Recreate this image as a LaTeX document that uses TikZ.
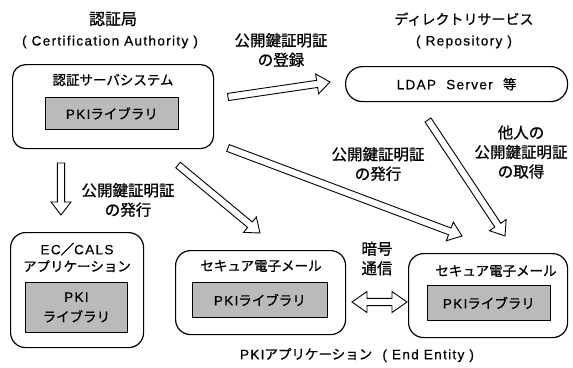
\documentclass[tikz,border=0pt]{standalone}
\usepackage{fontspec}
\setmainfont{Liberation Sans}[LetterSpace=10, FakeBold=0.6, AutoFakeBold=0.6]
\newfontfamily\jp{Noto Sans CJK JP}[FakeBold=0.8]
\usetikzlibrary{calc}
\tikzset{
  box/.style={draw, line width=1.2pt, anchor=north west, inner sep=0pt},
  lib/.style={draw, line width=0.8pt, fill=black!27, anchor=north west, inner sep=0pt, align=center,
              font=\fontsize{13.5}{20}\selectfont},
  txt/.style={inner sep=0pt, align=center, font=\fontsize{13.5}{17}\selectfont},
  lbl/.style={inner sep=0pt, align=center, font=\fontsize{15.5}{19.5}\selectfont\jp},
  fat/.style={draw, line width=0.9pt, fill=white, line join=miter},
}
\newcommand\fatarrow[2]{%
  \path[fat] let \p1=(#1), \p2=(#2), \n1={atan2(\y2-\y1,\x2-\x1)},
      \n2={veclen(\x2-\x1,\y2-\y1)-13pt} in
    ($(#1)+(\n1-90:3.6pt)$) -- ($(#1)+(\n1:\n2)+(\n1-90:3.6pt)$)
    -- ($(#1)+(\n1:\n2)+(\n1-90:10pt)$) -- (#2)
    -- ($(#1)+(\n1:\n2)+(\n1+90:10pt)$) -- ($(#1)+(\n1:\n2)+(\n1+90:3.6pt)$)
    -- ($(#1)+(\n1+90:3.6pt)$) -- cycle;}
\newcommand\fatdarrow[2]{%
  \path[fat] let \p1=(#1), \p2=(#2), \n1={atan2(\y2-\y1,\x2-\x1)},
      \n2={veclen(\x2-\x1,\y2-\y1)-15pt} in
    (#1) -- ($(#1)+(\n1:15pt)+(\n1+90:10.5pt)$) -- ($(#1)+(\n1:15pt)+(\n1+90:3.6pt)$)
    -- ($(#1)+(\n1:\n2)+(\n1+90:3.6pt)$) -- ($(#1)+(\n1:\n2)+(\n1+90:10.5pt)$)
    -- (#2)
    -- ($(#1)+(\n1:\n2)+(\n1-90:10.5pt)$) -- ($(#1)+(\n1:\n2)+(\n1-90:3.6pt)$)
    -- ($(#1)+(\n1:15pt)+(\n1-90:3.6pt)$) -- ($(#1)+(\n1:15pt)+(\n1-90:10.5pt)$) -- cycle;}
\begin{document}
\begin{tikzpicture}[x=1pt, y=-1pt]
\useasboundingbox[fill=white] (0,0) rectangle (573,367);
% titles
\node[txt, font=\fontsize{16}{18}\selectfont\jp] (tca1) at (113,19) {認証局};
\node[txt] (tca2) at (110,42) {(\ Certification Authority\ )};
\node[txt, font=\fontsize{14}{17}\selectfont\jp] (tdir1) at (464,19) {ディレクトリサービス};
\node[txt] (tdir2) at (464,42) {(\ Repository\ )};
% CA
\node[box, rounded corners=13pt, minimum width=201pt, minimum height=84pt] (ca) at (12,64) {};
\node[txt, font=\fontsize{13.5}{17}\selectfont\jp] (cat) at (113,80) {認証サーバシステム};
\node[lib, minimum width=133pt, minimum height=32pt] (calib) at (45,97) {PKI{\jp ライブラリ}};
% LDAP
\node[box, rounded corners=17pt, minimum width=222pt, minimum height=35pt, txt, anchor=north west] (ldap) at (345,66) {LDAP\ \ Server\ \ {\jp 等}};
% EC/CALS
\node[box, rounded corners=15pt, minimum width=133pt, minimum height=115pt] (ec) at (10,232) {};
\node[txt] (ect) at (77,257.5) {EC{\jp ／}CALS\\{\jp アプリケーション}};
\node[lib, minimum width=102pt, minimum height=50pt] (eclib) at (25,282) {PKI\\{\jp ライブラリ}};
% mail 1
\node[box, rounded corners=15pt, minimum width=170pt, minimum height=84pt] (m1) at (175,250) {};
\node[txt, font=\fontsize{13.5}{17}\selectfont\jp] (m1t) at (261,266) {セキュア電子メール};
\node[lib, minimum width=135pt, minimum height=35pt] (m1lib) at (192,282) {PKI{\jp ライブラリ}};
% mail 2
\node[box, rounded corners=15pt, minimum width=159pt, minimum height=84pt] (m2) at (408,253) {};
\node[txt, font=\fontsize{13.5}{17}\selectfont\jp] (m2t) at (496,271) {セキュア電子メール};
\node[lib, minimum width=123pt, minimum height=35pt] (m2lib) at (427,285) {PKI{\jp ライブラリ}};
% labels
\node[lbl] (lreg) at (281,50) {公開鍵証明証\\の登録};
\node[lbl] (lget) at (521,152) {他人の\\公開鍵証明証\\の取得};
\node[lbl] (liss) at (378,164) {公開鍵証明証\\の発行};
\node[lbl] (ldown) at (128,200) {公開鍵証明証\\の発行};
\node[lbl] (lenc) at (377,258.5) {暗号\\通信};
\node[txt] (tee) at (357,355) {PKI{\jp アプリケーション}\ \ (\ End Entity\ )};
% arrow end points
\coordinate (a1s) at (61,163);  \coordinate (a1e) at (61,215);
\coordinate (a2s) at (228,97);  \coordinate (a2e) at (330,82);
\coordinate (a3s) at (178,165); \coordinate (a3e) at (260,233);
\coordinate (a4s) at (228,148); \coordinate (a4e) at (462,236);
\coordinate (a5s) at (428,120); \coordinate (a5e) at (505,236);
\coordinate (a6s) at (352,302); \coordinate (a6e) at (407,302);
\fatarrow{a1s}{a1e}
\fatarrow{a2s}{a2e}
\fatarrow{a3s}{a3e}
\fatarrow{a4s}{a4e}
\fatarrow{a5s}{a5e}
\fatdarrow{a6s}{a6e}
\end{tikzpicture}
\end{document}
